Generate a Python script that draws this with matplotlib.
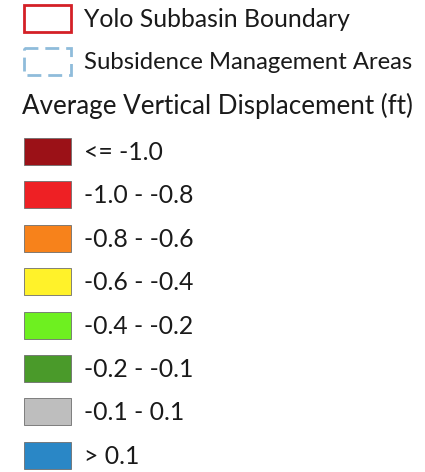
import matplotlib
matplotlib.use("Agg")
import matplotlib.pyplot as plt
from matplotlib.patches import Rectangle

# legend content
boundary_labels = ["Yolo Subbasin Boundary", "Subsidence Management Areas"]
boundary_colors = ["#d42027", "#8fbcdb"]
boundary_styles = ["solid", (0, (5, 2.5))]

title = "Average Vertical Displacement (ft)"
class_labels = ["<= -1.0", "-1.0 - -0.8", "-0.8 - -0.6", "-0.6 - -0.4",
                "-0.4 - -0.2", "-0.2 - -0.1", "-0.1 - 0.1", "> 0.1"]
class_colors = ["#9b1117", "#ee2024", "#f7821b", "#fff22a",
                "#6ef020", "#4a9a2a", "#bebebe", "#2a87c6"]

plt.rcParams["font.family"] = ["Lato", "DejaVu Sans"]

fig = plt.figure(figsize=(4.25, 4.72), dpi=100)
ax = fig.add_axes([0, 0, 1, 1])
ax.set_xlim(0, 425)
ax.set_ylim(472, 0)
ax.axis("off")

fs = 17.8
sw_x, sw_w, sw_h = 24, 47, 27
text_x = 84

# boundary lines
for i, (lab, col, ls) in enumerate(zip(boundary_labels, boundary_colors, boundary_styles)):
    y0 = 5 + i * 43
    ax.add_patch(Rectangle((sw_x, y0), sw_w, sw_h, facecolor="none",
                           edgecolor=col, linewidth=2.0, linestyle=ls))
    ax.text(text_x, y0 + sw_h / 2 + 1, lab, fontsize=fs - 0.6 * i, va="center",
            ha="left", color="#1a1a1a")

ax.text(22, 106, title, fontsize=fs + 0.9, va="center", ha="left", color="#1a1a1a")

# displacement classes
for i, (lab, col) in enumerate(zip(class_labels, class_colors)):
    y0 = 138 + i * 43.4
    ax.add_patch(Rectangle((sw_x, y0), sw_w, sw_h, facecolor=col,
                           edgecolor="#6e6e6e", linewidth=0.6))
    ax.text(text_x, y0 + sw_h / 2 + 1, lab, fontsize=fs, va="center", ha="left", color="#1a1a1a")

fig.savefig("out.png", dpi=100, facecolor="white")
